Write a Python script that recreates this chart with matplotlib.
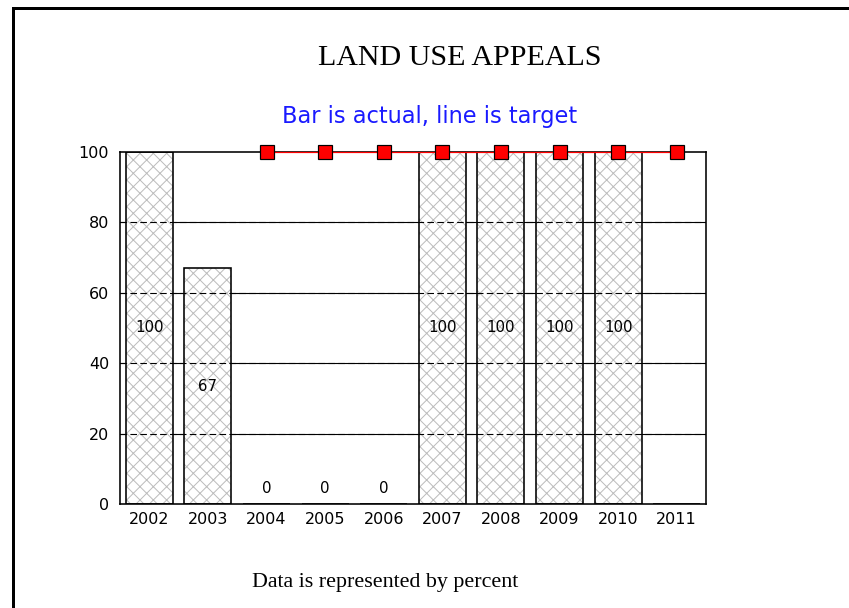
import numpy as np
import matplotlib
matplotlib.use("Agg")
import matplotlib.pyplot as plt
from matplotlib.lines import Line2D

# chart data
years = ["2002", "2003", "2004", "2005", "2006", "2007", "2008", "2009", "2010", "2011"]
actual = [100, 67, 0, 0, 0, 100, 100, 100, 100, np.nan]
target = [np.nan, np.nan, 100, 100, 100, 100, 100, 100, 100, 100]
yticks = [0, 20, 40, 60, 80, 100]

DPI = 80
PT = 72 / DPI  # pixels -> points

plt.rcParams['hatch.color'] = '#bcbcbc'
plt.rcParams['hatch.linewidth'] = 1.0 * PT

fig = plt.figure(figsize=(849 / DPI, 608 / DPI), dpi=DPI)
fig.patch.set_facecolor('white')

# slide border (left and top only visible)
bx, by = 12.5 / 849, 1 - 8 / 608
fig.add_artist(Line2D([bx, bx], [0, by], color='black', lw=3 * PT, transform=fig.transFigure))
fig.add_artist(Line2D([bx, 1], [by, by], color='black', lw=3 * PT, transform=fig.transFigure))

ax = fig.add_axes([120 / 849, 1 - 504 / 608, 586 / 849, 352 / 608])
x = np.arange(len(years))
vals = np.array(actual, dtype=float)

# grid: solid behind the bars, dashed on top of them
for yv in yticks[1:-1]:
    ax.axhline(yv, color='black', lw=1.1 * PT, zorder=0.5)
    ax.axhline(yv, color='black', lw=1.1 * PT, ls=(0, (6, 3)), zorder=2.5)

ax.bar(x, np.nan_to_num(vals), width=0.8, color='white', hatch='xx', lw=0, zorder=1)
ax.bar(x, np.nan_to_num(vals), width=0.8, color='none', edgecolor='black', lw=1.6 * PT, zorder=3)

for xi, v in zip(x, vals):
    if np.isnan(v):
        continue
    if v > 0:
        ax.text(xi, v / 2, f"{v:.0f}", ha='center', va='center', fontsize=15 * PT, zorder=4)
    else:
        ax.annotate(f"{v:.0f}", (xi, 0), xytext=(0, 8), textcoords='offset pixels',
                    ha='center', va='bottom', fontsize=15 * PT, zorder=4)

ax.plot(x, target, color='red', lw=1.2 * PT, marker='s', markersize=14 * PT,
        markerfacecolor='red', markeredgecolor='black', markeredgewidth=1.2 * PT,
        zorder=5, clip_on=False)

ax.set_xlim(-0.5, len(years) - 0.5)
ax.set_ylim(0, 100)
ax.set_xticks(x)
ax.set_xticklabels(years)
ax.set_yticks(yticks)
ax.tick_params(length=0, labelsize=16 * PT)
ax.tick_params(axis='y', pad=11 * PT)
ax.tick_params(axis='x', pad=8 * PT)
for s in ax.spines.values():
    s.set_linewidth(1.6 * PT)
    s.set_zorder(4)

fig.text(460 / 849, 1 - 58 / 608, "LAND USE APPEALS", ha='center', va='center',
         family='Liberation Serif', fontsize=30 * PT)
fig.text(429.5 / 849, 1 - 116 / 608, "Bar is actual, line is target", ha='center', va='center',
         color='#1a1aff', fontsize=22.5 * PT)
fig.text(385 / 849, 1 - 583 / 608, "Data is represented by percent", ha='center', va='center',
         family='Liberation Serif', fontsize=22 * PT)

fig.savefig("out.png", dpi=DPI)
